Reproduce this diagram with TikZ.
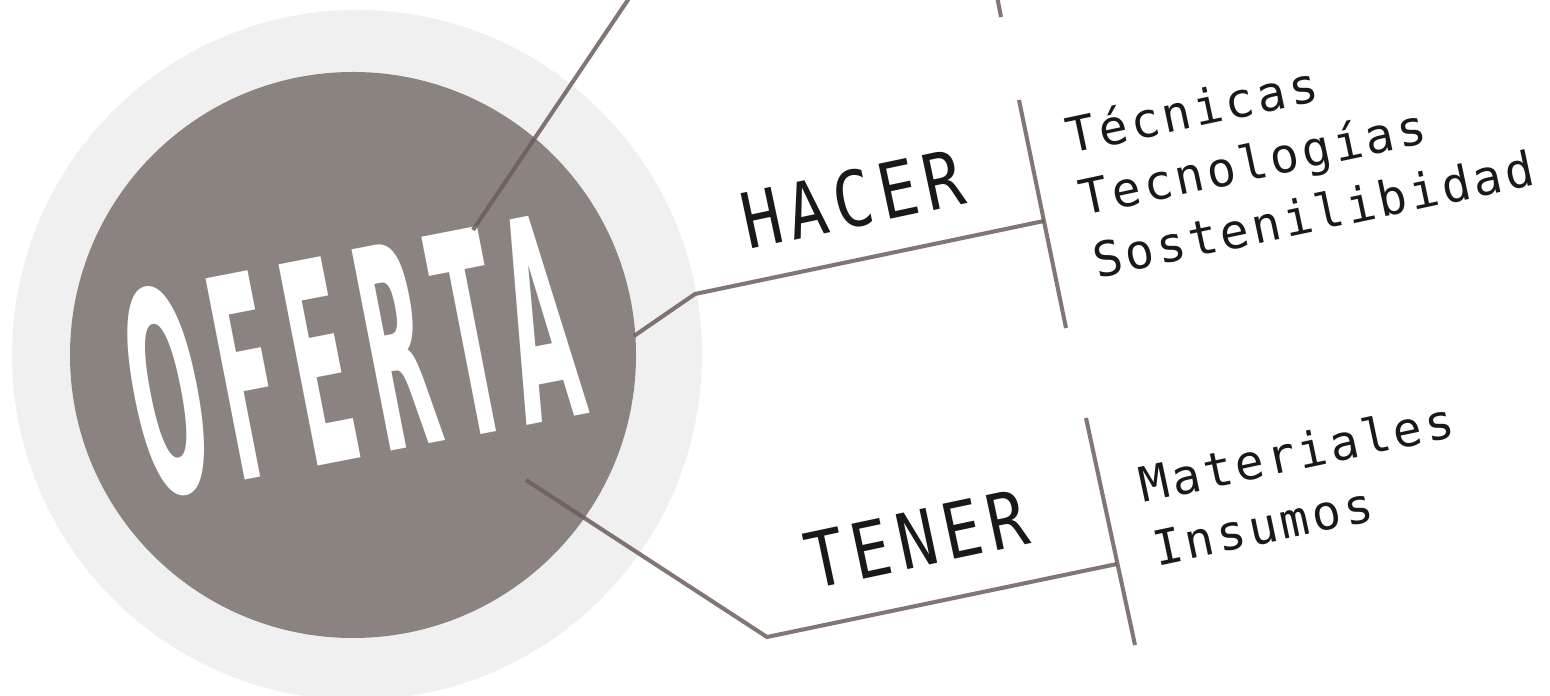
\documentclass[tikz,border=0pt]{standalone}
\usepackage{fontspec}
\setmonofont{DejaVu Sans Mono}
\newfontfamily\verbfont{DejaVu Sans Mono}[LetterSpace=10.6]
\newfontfamily\itemfont{DejaVu Sans Mono}[LetterSpace=7]
\newfontfamily\handfont{DejaVu Sans}[LetterSpace=20]
\usetikzlibrary{calc}
\definecolor{ringclr}{HTML}{EFF0EF}
\definecolor{hubclr}{HTML}{8A8380}
\definecolor{lineclr}{HTML}{6B5E5A}
\tikzstyle{branch}=[draw=lineclr,draw opacity=0.85,line width=1.15pt]
\tikzstyle{verb}=[inner sep=0pt,rotate=12,anchor=base west,text=black!90,font=\verbfont\fontsize{21.9}{26}\selectfont]
\tikzstyle{item}=[inner sep=0pt,rotate=12,anchor=base west,text=black!90,font=\itemfont\fontsize{13.7}{16}\selectfont]

\begin{document}
\begin{tikzpicture}
\clip (0,0) rectangle (15.5,6.96);
\node [circle,fill=ringclr,inner sep=0pt,minimum size=6.9cm] (ring) at (3.57,3.41) {};
\node [circle,fill=hubclr,inner sep=0pt,minimum size=5.66cm] (hub) at (3.53,3.41) {};
\node [rotate=11,inner sep=0pt,text=white,font=\handfont\bfseries\fontsize{80}{82}\selectfont] (oferta) at (3.51,3.41) {\scalebox{0.30}[1]{OFERTA}};

% branch points
\coordinate (top-in) at (4.73,4.66);
\coordinate (top-out) at (6.40,7.14);
\coordinate (top-bar-top) at (9.95,7.10);
\coordinate (top-bar-bot) at (10.01,6.79);
\coordinate (hacer-in) at (6.34,3.60);
\coordinate (hacer-knee) at (6.95,4.02);
\coordinate (hacer-bar-top) at (10.19,5.96);
\coordinate (hacer-bar-bot) at (10.66,3.68);
\coordinate (hacer-joint) at (10.44,4.75);
\coordinate (tener-in) at (5.26,2.16);
\coordinate (tener-knee) at (7.67,0.59);
\coordinate (tener-bar-top) at (10.86,2.78);
\coordinate (tener-bar-bot) at (11.35,0.51);
\coordinate (tener-joint) at (11.17,1.32);

\draw [branch] (top-in) -- (top-out);
\draw [branch] (top-bar-top) -- (top-bar-bot);
\draw [branch] (hacer-in) -- (hacer-knee) -- (hacer-joint);
\draw [branch] (hacer-bar-top) -- (hacer-bar-bot);
\draw [branch] (tener-in) -- (tener-knee) -- (tener-joint);
\draw [branch] (tener-bar-top) -- (tener-bar-bot);

\node [verb] (hacer) at (7.48,4.46) {\scalebox{0.85}[1]{HACER}};
\node [verb] (tener) at (8.12,1.06) {\scalebox{0.85}[1]{TENER}};

\node [item] (tec1) at (10.70,5.42) {Técnicas};
\node [item] (tec2) at (tec1.base west) [yshift=-6.35mm] {Tecnologías};
\node [item] (tec3) at (tec2.base west) [yshift=-6.35mm] {Sostenilibidad};
\node [item] (ten1) at (11.43,1.93) {Materiales};
\node [item] (ten2) at (ten1.base west) [yshift=-6.5mm] {Insumos};

\end{tikzpicture}
\end{document}
